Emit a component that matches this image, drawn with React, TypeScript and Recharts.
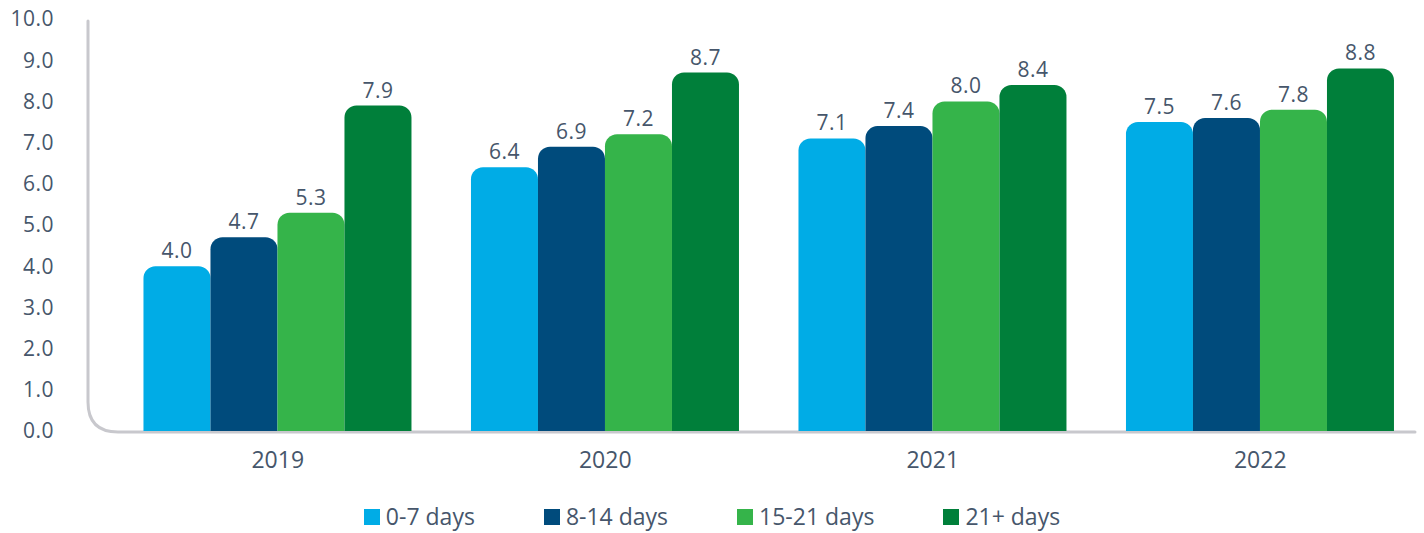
import React from 'react';
import {
  BarChart,
  Bar,
  XAxis,
  YAxis,
  Legend,
  LabelList,
  ReferenceArea,
} from 'recharts';

const years = ['2019', '2020', '2021', '2022'];
const days0to7 = [4.0, 6.4, 7.1, 7.5];
const days8to14 = [4.7, 6.9, 7.4, 7.6];
const days15to21 = [5.3, 7.2, 8.0, 7.8];
const days21plus = [7.9, 8.7, 8.4, 8.8];
const yTicks = [0, 1, 2, 3, 4, 5, 6, 7, 8, 9, 10];

const series = [
  { key: 'a', name: '0-7 days', color: '#00ace6' },
  { key: 'b', name: '8-14 days', color: '#004b7c' },
  { key: 'c', name: '15-21 days', color: '#35b44a' },
  { key: 'd', name: '21+ days', color: '#007f3a' },
];

const data = years.map((year, i) => ({
  year,
  a: days0to7[i],
  b: days8to14[i],
  c: days15to21[i],
  d: days21plus[i],
}));

const textColor = '#46566b';
const font = '"Open Sans", "Noto Sans", sans-serif';

// rounded L-shaped axis line around the plot area
const AxisFrame = (props: any) => {
  const { x, y, width, height } = props;
  const left = x - 26;
  const top = y + 2;
  const bottom = y + height + 1;
  const right = x + width - 9;
  const r = 30;
  const d = `M${left},${top} L${left},${bottom - r} Q${left},${bottom} ${left + r},${bottom} L${right},${bottom}`;
  return <path d={d} fill="none" stroke="#c8c8cd" strokeWidth={3} strokeLinecap="round" />;
};

const LegendContent = () => (
  <div
    style={{
      display: 'flex',
      justifyContent: 'center',
      gap: 69,
      paddingTop: 8,
      fontFamily: font,
      fontSize: 23,
      lineHeight: '31px',
      color: textColor,
    }}
  >
    {series.map((s) => (
      <div key={s.key} style={{ display: 'flex', alignItems: 'center' }}>
        <span style={{ width: 16, height: 16, background: s.color, marginRight: 6, display: 'inline-block' }} />
        <span>{s.name}</span>
      </div>
    ))}
  </div>
);

const App = () => {
  return (
    <div style={{ position: 'absolute', left: 0, top: 0, width: 1424, height: 533 }}>
      <BarChart
        width={1424}
        height={533}
        data={data}
        margin={{ top: 19, right: 0, left: 0, bottom: 0 }}
        barCategoryGap="9%"
        barGap={0}
      >
        <ReferenceArea y1={0} y2={10} shape={<AxisFrame />} ifOverflow="visible" />
        <YAxis
          width={114}
          domain={[0, 10]}
          ticks={yTicks}
          interval={0}
          axisLine={false}
          tickLine={false}
          tickSize={0}
          tickMargin={60}
          tickFormatter={(v: number) => v.toFixed(1)}
          tick={{ fill: textColor, fontSize: 21, fontFamily: font, letterSpacing: 0.5 }}
        />
        <XAxis
          dataKey="year"
          height={62}
          axisLine={false}
          tickLine={false}
          tickSize={0}
          tickMargin={21}
          tick={{ fill: textColor, fontSize: 23, fontFamily: font }}
        />
        <Legend
          verticalAlign="bottom"
          height={40}
          wrapperStyle={{ overflow: 'visible' }}
          content={<LegendContent />}
        />
        {series.map((s) => (
          <Bar
            key={s.key}
            dataKey={s.key}
            name={s.name}
            fill={s.color}
            radius={[12, 12, 0, 0]}
            isAnimationActive={false}
          >
            <LabelList
              dataKey={s.key}
              position="top"
              offset={8}
              formatter={(v: any) => Number(v).toFixed(1)}
              style={{ fill: textColor, fontSize: 21, fontFamily: font, letterSpacing: 0.5 }}
            />
          </Bar>
        ))}
      </BarChart>
    </div>
  );
};

export default App;
